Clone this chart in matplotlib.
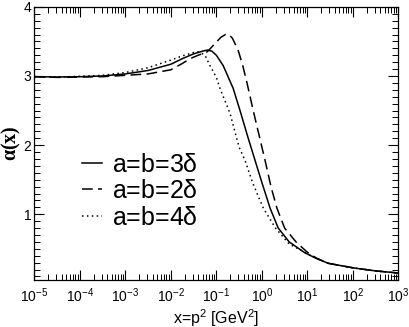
import numpy as np
import matplotlib
matplotlib.use("Agg")
import matplotlib.pyplot as plt
from matplotlib.ticker import LogLocator, MultipleLocator, FixedLocator

plt.rcParams['font.family'] = ['Liberation Sans', 'DejaVu Sans']
plt.rcParams['mathtext.default'] = 'regular'

# log10(x) and alpha(x)
lx_3 = [-5.0, -4.5, -4.0, -3.5, -3.0, -2.5, -2.0, -1.75, -1.5, -1.3, -1.2, -1.1,
        -1.0, -0.85, -0.75, -0.63, -0.48, -0.3, -0.15, 0.0, 0.18, 0.36, 0.6,
        0.95, 1.2, 1.46, 2.0, 2.5, 3.0]
a_3 = [2.99, 2.985, 2.99, 3.0, 3.03, 3.08, 3.17, 3.25, 3.32, 3.36, 3.375, 3.36,
       3.30, 3.15, 3.0, 2.82, 2.50, 2.10, 1.78, 1.46, 1.09, 0.80, 0.60,
       0.44, 0.36, 0.29, 0.225, 0.18, 0.15]

lx_2 = [-5.0, -4.5, -4.0, -3.5, -3.0, -2.5, -2.0, -1.75, -1.58, -1.4, -1.2, -1.1,
        -1.0, -0.9, -0.8, -0.74, -0.65, -0.52, -0.42, -0.33, -0.19, 0.07, 0.2,
        0.33, 0.5, 0.75, 1.0, 1.2, 1.46, 2.0, 2.5, 3.0]
a_2 = [2.99, 2.98, 2.985, 2.99, 3.01, 3.03, 3.09, 3.18, 3.25, 3.30, 3.35, 3.42,
       3.49, 3.56, 3.60, 3.605, 3.55, 3.37, 3.15, 2.91, 2.50, 1.78, 1.40,
       1.09, 0.80, 0.60, 0.45, 0.365, 0.29, 0.225, 0.18, 0.15]

lx_4 = [-5.0, -4.5, -4.0, -3.5, -3.0, -2.5, -2.0, -1.75, -1.5, -1.38, -1.25,
        -1.14, -1.0, -0.92, -0.7, -0.5, -0.37, -0.2, 0.03, 0.3, 0.6, 1.0, 1.2,
        1.46, 2.0, 2.5, 3.0]
a_4 = [2.99, 2.985, 2.995, 3.01, 3.05, 3.12, 3.23, 3.29, 3.34, 3.35, 3.30,
       3.15, 2.98, 2.82, 2.46, 1.97, 1.78, 1.45, 1.09, 0.80, 0.57, 0.43, 0.36,
       0.29, 0.225, 0.18, 0.15]

labels = [r"a=b=3$\delta$", r"a=b=2$\delta$", r"a=b=4$\delta$"]
x_decades = [1e-5, 1e-4, 1e-3, 1e-2, 1e-1, 1e0, 1e1, 1e2, 1e3]

fig = plt.figure(figsize=(4.09, 3.27), dpi=100)
ax = fig.add_axes([0.084, 0.144, 0.89, 0.835])

ax.plot(10 ** np.array(lx_3), a_3, color='black', lw=1.1, label=labels[0])
ax.plot(10 ** np.array(lx_2), a_2, color='black', lw=1.1, dashes=(7, 3.5), label=labels[1])
ax.plot(10 ** np.array(lx_4), a_4, color='black', lw=1.1, dashes=(1, 2.2), label=labels[2])

ax.set_xscale('log')
ax.set_xlim(1e-5, 1e3)
ax.set_ylim(0.05, 4)

ax.xaxis.set_major_locator(FixedLocator(x_decades))
ax.xaxis.set_minor_locator(LogLocator(base=10, subs=np.arange(2, 10), numticks=20))
ax.yaxis.set_major_locator(FixedLocator([1, 2, 3, 4]))
ax.yaxis.set_minor_locator(MultipleLocator(0.1))

ax.tick_params(which='both', direction='in', top=True, right=True, labelsize=10)
ax.tick_params(which='major', length=7, width=0.8)
ax.tick_params(which='minor', length=4, width=0.7)
ax.tick_params(axis='x', pad=5)
ax.tick_params(axis='y', pad=2)
for s in ax.spines.values():
    s.set_linewidth(0.9)

ax.set_xlabel(r"x=p$^2$ [GeV$^2$]", fontsize=11.5, labelpad=1)
ax.set_ylabel(r"$\alpha$(x)", fontsize=14.5, fontweight='bold', family='Liberation Serif')
ax.yaxis.set_label_coords(-0.03, 0.5)

ax.legend(loc='upper left', bbox_to_anchor=(0.132, 0.466), frameon=False, fontsize=18,
          handlelength=0.78, handletextpad=0.4, labelspacing=0.1, borderpad=0,
          borderaxespad=0)

fig.savefig("out.png", dpi=100)
